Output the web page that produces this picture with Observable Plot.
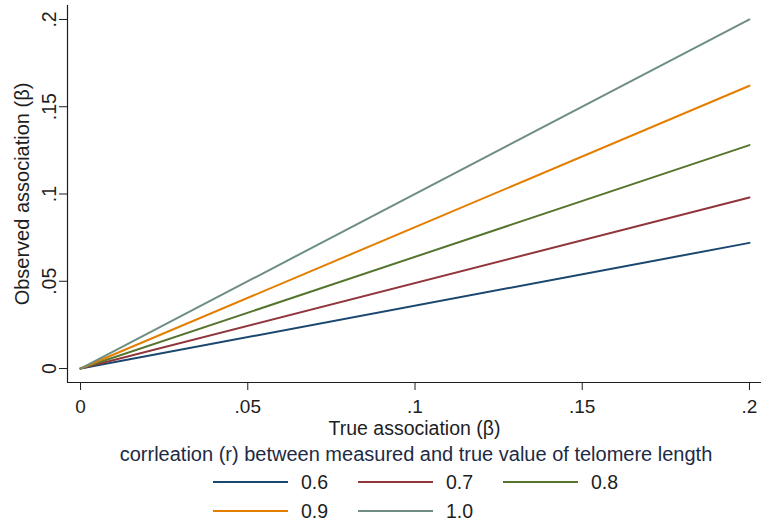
<!DOCTYPE html>
<html>
<head>
<meta charset="utf-8">
<script src="https://cdn.jsdelivr.net/npm/d3@7"></script>
<script src="https://cdn.jsdelivr.net/npm/@observablehq/plot@0.6"></script>
<style>
  html, body { margin: 0; padding: 0; background: #fff; }
  #wrap { position: relative; width: 761px; height: 525px; font-family: "Liberation Sans", Arial, sans-serif; color: #1e1e1e; overflow: hidden; }
  #chart svg { display: block; }
  #legTitle { position: absolute; left: 0; width: 832px; top: 443px; text-align: center; font-size: 20px; line-height: 23px; color: #1e2a44; white-space: nowrap; }
  .item { position: absolute; height: 22px; display: flex; align-items: center; font-size: 19.5px; }
  .item .sw { width: 75px; height: 2px; margin-right: 13px; }
</style>
</head>
<body>
<div id="wrap">
  <div id="chart"></div>
  <div id="legTitle"></div>
  <div id="legend"></div>
</div>
<script>
// ---- data ----
const series = ["0.6", "0.7", "0.8", "0.9", "1.0"];
const xValues = [0, 0.2];
const startValues = [0, 0, 0, 0, 0];
const endValues = [0.072, 0.098, 0.128, 0.162, 0.2];
const colors = ["#1a476f", "#90353b", "#55752f", "#e37e00", "#6e8e84"];
const xTicks = [0, 0.05, 0.1, 0.15, 0.2];
const xTickLabels = ["0", ".05", ".1", ".15", ".2"];
const yTicks = [0, 0.05, 0.1, 0.15, 0.2];
const yTickLabels = ["0", ".05", ".1", ".15", ".2"];
const xTitle = "True association (\u03B2)";
const yTitle = "Observed association (\u03B2)";
const legendTitle = "corrleation (r) between measured and true value of telomere length";
const xDomain = [-0.0039, 0.2036];
const yDomain = [-0.008, 0.208];

const data = series.flatMap((s, i) => [
  {x: xValues[0], y: startValues[i], r: s},
  {x: xValues[1], y: endValues[i], r: s}
]);

const chart = Plot.plot({
  width: 761,
  height: 440,
  marginLeft: 67,
  marginRight: 0,
  marginTop: 5,
  marginBottom: 58,
  style: {fontFamily: '"Liberation Sans", Arial, sans-serif', color: "#1e1e1e", background: "#fff"},
  x: {domain: xDomain},
  y: {domain: yDomain},
  color: {domain: series, range: colors},
  marks: [
    Plot.ruleX([xDomain[0]], {stroke: "#1e1e1e", strokeWidth: 1.2}),
    Plot.ruleY([yDomain[0]], {stroke: "#1e1e1e", strokeWidth: 1.2}),
    Plot.axisX({ticks: xTicks, tickFormat: (d, i) => xTickLabels[i], tickSize: 8, tickPadding: 9, fontSize: 19, label: null, stroke: "#1e1e1e"}),
    Plot.axisY({ticks: yTicks, tickFormat: (d, i) => yTickLabels[i], tickSize: 8, tickPadding: 4, tickRotate: -90, fontSize: 19.5, label: null, stroke: "#1e1e1e"}),
    Plot.line(data, {x: "x", y: "y", z: "r", stroke: "r", strokeWidth: 2}),
    Plot.text([xTitle], {frameAnchor: "bottom", textAnchor: "middle", lineAnchor: "middle", dy: 46.5, fontSize: 19.5, fill: "#1e1e1e"}),
    Plot.text([yTitle], {frameAnchor: "left", textAnchor: "middle", lineAnchor: "middle", dx: -45, rotate: -90, fontSize: 20, fill: "#1e1e1e"})
  ]
});
document.getElementById("chart").appendChild(chart);

document.getElementById("legTitle").textContent = legendTitle;
const legend = document.getElementById("legend");
const colX = [213, 358, 503];
const rowY = [471, 500];
series.forEach((s, i) => {
  const el = document.createElement("div");
  el.className = "item";
  el.style.left = colX[i % 3] + "px";
  el.style.top = rowY[Math.floor(i / 3)] + "px";
  const sw = document.createElement("span");
  sw.className = "sw";
  sw.style.background = colors[i];
  const t = document.createElement("span");
  t.textContent = s;
  el.appendChild(sw);
  el.appendChild(t);
  legend.appendChild(el);
});
</script>
</body>
</html>
